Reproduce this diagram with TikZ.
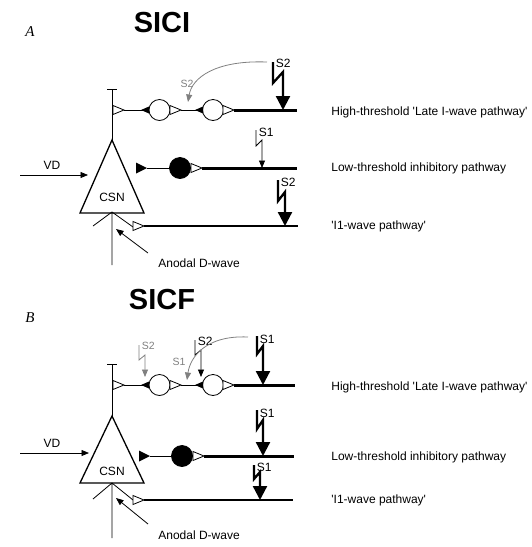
\documentclass[tikz,border=0pt]{standalone}
\usepackage{fontspec}
\setmainfont{Liberation Sans}
\newfontfamily\panelfont{Liberation Serif}
\usetikzlibrary{arrows.meta}

% synapse symbols
\newcommand{\opensyn}[2]{\draw[fill=white] (#1,#2-4.5) -- (#1+11,#2) -- (#1,#2+4.5) -- cycle;}
\newcommand{\wedgesyn}[2]{\fill (#1,#2) -- (#1+8,#2-3.5) -- (#1+8,#2+3.5) -- cycle;}
\newcommand{\fillsyn}[2]{\fill (#1,#2-5.5) -- (#1+11,#2) -- (#1,#2+5.5) -- cycle;}
\newcommand{\q}{\textquotesingle}

\tikzset{
  cell/.style={circle,draw,line width=0.8pt,minimum size=21pt,inner sep=0pt},
  txt/.style={font=\fontsize{12}{14}\selectfont,inner sep=1pt},
  lab/.style={txt,anchor=west},
  stim/.style={font=\fontsize{12}{13}\selectfont,anchor=west,inner sep=0.5pt},
  weakstim/.style={font=\fontsize{10.5}{12}\selectfont,text=black!50,inner sep=0.5pt},
  title/.style={font=\fontsize{29}{31}\selectfont\bfseries},
  panel/.style={font=\fontsize{15}{17}\selectfont\panelfont\itshape},
  tip/.style={-{Triangle[length=7.5pt,width=6pt]}},
  bigtip/.style={-{Triangle[length=14pt,width=14pt]}},
  bolt/.style={line width=2.3pt,line join=miter},
  fiber/.style={line width=3pt},
}

\begin{document}
\begin{tikzpicture}[x=1pt,y=-1pt,line width=0.8pt]
\useasboundingbox (0,0) rectangle (532,547);

% ---------- A ----------
\node[panel] (labA) at (30,32) {A};
\node[title] (titA) at (162,23) {SICI};

% CSN
\draw (107,89) -- (117,89) (112,89) -- (112,140);
\draw[line width=1.3pt] (112,140) -- (80,213) -- (144,213) -- cycle;
\node[txt] (csnA) at (112,197) {CSN};
\draw (112,213) -- (112,265) (112,212) -- (93,226) (112,212) -- (133,227);
\coordinate (vdsA) at (20,175);
\coordinate (vdeA) at (88,175);
\draw[tip] (vdsA) -- (vdeA);
\node[txt] (vdA) at (52,165) {VD};
\node[lab] (adA) at (157,263) {Anodal D-wave};
\coordinate (adsA) at (148,253);
\coordinate (adeA) at (116,229);
\draw[tip] (adsA) -- (adeA);

% high-threshold
\opensyn{113}{110}
\node[cell] (hA1) at (159.5,110) {};
\node[cell] (hA2) at (213,110) {};
\draw (124,110) -- (hA1.west);
\wedgesyn{141}{110}
\opensyn{170}{110}
\draw (181,110) -- (hA2.west);
\wedgesyn{195}{110}
\opensyn{223}{110}
\draw[fiber] (234,110) -- (297,110);
\node[lab] (hiA) at (330,112) {High-threshold \q Late I-wave pathway\q};

% low-threshold
\fillsyn{136}{168}
\node[cell,fill=black] (lA) at (180,168) {};
\draw (147,168) -- (lA.west);
\opensyn{191}{168}
\draw[fiber] (202,168) -- (297,168);
\node[lab] (loA) at (330,168) {Low-threshold inhibitory pathway};

% I1
\opensyn{133}{226}
\draw[line width=2pt] (144,226) -- (298,226);
\node[lab] (iA) at (330,226) {\q I1-wave pathway\q};

% stimuli
\draw[bolt,bigtip] (273,62) -- (273,83) -- (283,72) -- (283,110);
\node[stim] (s2hA) at (275,63) {S2};
\draw[tip] (256,130) -- (256,146) -- (262,140) -- (262,168);
\node[stim] (s1lA) at (258,132) {S1};
\draw[bolt,bigtip] (278,180) -- (278,201) -- (285,192) -- (285,226);
\node[stim] (s2iA) at (280,182) {S2};
\draw[black!50,tip] (267,62) .. controls (215,60) and (192,78) .. (188,102);
\node[weakstim] (gs2A) at (187,84) {S2};

% ---------- B ----------
\node[panel] (labB) at (30,318) {B};
\node[title] (titB) at (162,300) {SICF};

% CSN
\draw (107,364) -- (117,364) (112,364) -- (112,416);
\draw[line width=1.3pt] (112,416) -- (80,483) -- (144,483) -- cycle;
\node[txt] (csnB) at (112,471) {CSN};
\draw (112,483) -- (112,538) (112,483) -- (93,499) (112,483) -- (133,500);
\coordinate (vdsB) at (20,453);
\coordinate (vdeB) at (89,453);
\draw[tip] (vdsB) -- (vdeB);
\node[txt] (vdB) at (52,443) {VD};
\node[lab] (adB) at (157,535) {Anodal D-wave};
\coordinate (adsB) at (148,524);
\coordinate (adeB) at (116,498);
\draw[tip] (adsB) -- (adeB);

% high-threshold
\opensyn{113}{385}
\node[cell] (hB1) at (159.5,385) {};
\node[cell] (hB2) at (213,385) {};
\draw (124,385) -- (hB1.west);
\wedgesyn{141}{385}
\opensyn{170}{385}
\draw (181,385) -- (hB2.west);
\wedgesyn{195}{385}
\opensyn{223}{385}
\draw[fiber] (234,385) -- (295,385);
\node[lab] (hiB) at (330,387) {High-threshold \q Late I-wave pathway\q};

% low-threshold
\fillsyn{139}{456}
\node[cell,fill=black] (lB) at (182,456) {};
\draw (150,456) -- (lB.west);
\opensyn{193}{456}
\draw[fiber] (204,456) -- (294,456);
\node[lab] (loB) at (330,457) {Low-threshold inhibitory pathway};

% I1
\opensyn{133}{500}
\draw[line width=2pt] (144,500) -- (293,500);
\node[lab] (iB) at (330,500) {\q I1-wave pathway\q};

% stimuli
\draw[bolt,bigtip] (257,336) -- (257,354) -- (263,346) -- (263,385);
\node[stim] (s1hB) at (259,339) {S1};
\draw[tip] (195,340) -- (195,355) -- (201,350) -- (201,377);
\node[stim] (s2hB) at (197,341) {S2};
\draw[black!50,tip] (139,345) -- (139,360) -- (145,355) -- (145,377);
\node[weakstim,anchor=west] (gs2B) at (141,346) {S2};
\draw[black!50,tip] (248,337) .. controls (205,335) and (190,358) .. (187,380);
\node[weakstim] (gs1B) at (179,362) {S1};
\draw[bolt,bigtip] (257,410) -- (257,429) -- (263,420) -- (263,456);
\node[stim] (s1lB) at (259,413) {S1};
\draw[bolt,bigtip] (254,465) -- (254,479) -- (260,472) -- (260,500);
\node[stim] (s1iB) at (256,467) {S1};
\end{tikzpicture}
\end{document}
